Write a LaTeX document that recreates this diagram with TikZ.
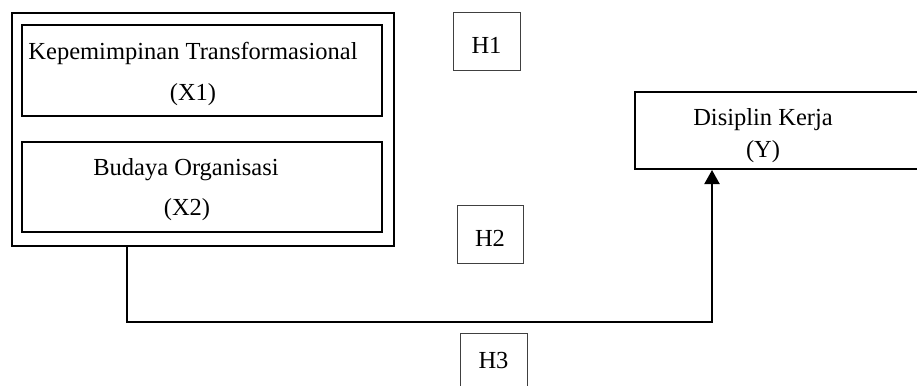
\documentclass[tikz,border=0pt]{standalone}
\usepackage{fontspec}
\setmainfont{Liberation Serif}
\usetikzlibrary{arrows.meta}

\tikzset{
  varbox/.style={draw=black, line width=2pt, inner sep=0pt, fill=none},
  hypbox/.style={draw=black!75, line width=1pt, inner sep=0pt,
                 minimum width=67pt, minimum height=58pt,
                 font=\fontsize{24.5}{29}\selectfont, text depth=0pt},
  lbl/.style={anchor=base, inner sep=0pt, font=\fontsize{24.5}{29}\selectfont},
  link/.style={line width=2pt, line join=miter}
}

\begin{document}
\begin{tikzpicture}[x=1pt, y=-1pt]
  \clip (0,0) rectangle (917,385);
  \fill[white] (0,0) rectangle (917,385);

  % independent variables grouped in an outer frame
  \node[varbox, minimum width=382pt, minimum height=233pt] (outer) at (203,129.5) {};
  \node[varbox, minimum width=360pt, minimum height=91pt] (x1) at (202,70.5) {};
  \node[varbox, minimum width=360pt, minimum height=90pt] (x2) at (202,187) {};
  \node[lbl] (x1a) at (193,60) {Kepemimpinan Transformasional};
  \node[lbl] (x1b) at (193,101) {(X1)};
  \node[lbl] (x2a) at (186,175) {Budaya Organisasi};
  \node[lbl] (x2b) at (187,215) {(X2)};

  % dependent variable
  \node[varbox, minimum width=305pt, minimum height=77pt] (y) at (787.5,130.5) {};
  \node[lbl] (ya) at (763,125) {Disiplin Kerja};
  \node[lbl] (yb) at (763,157) {(Y)};

  % hypothesis labels
  \node[hypbox, text height=24pt] (h1) at (486.5,42) {H1};
  \node[hypbox, text height=24pt, minimum width=66pt] (h2) at (490,234) {H2};
  \node[hypbox, text height=12pt] (h3) at (493.5,362) {H3};

  % path from the frame to Disiplin Kerja
  \coordinate (c1) at (127,322);
  \coordinate (c2) at (712,322);
  \draw[link, -{Triangle[width=15pt, length=14pt]}]
    (outer.south -| c1) -- (c1) -- (c2) -- (y.south -| c2);
\end{tikzpicture}
\end{document}
